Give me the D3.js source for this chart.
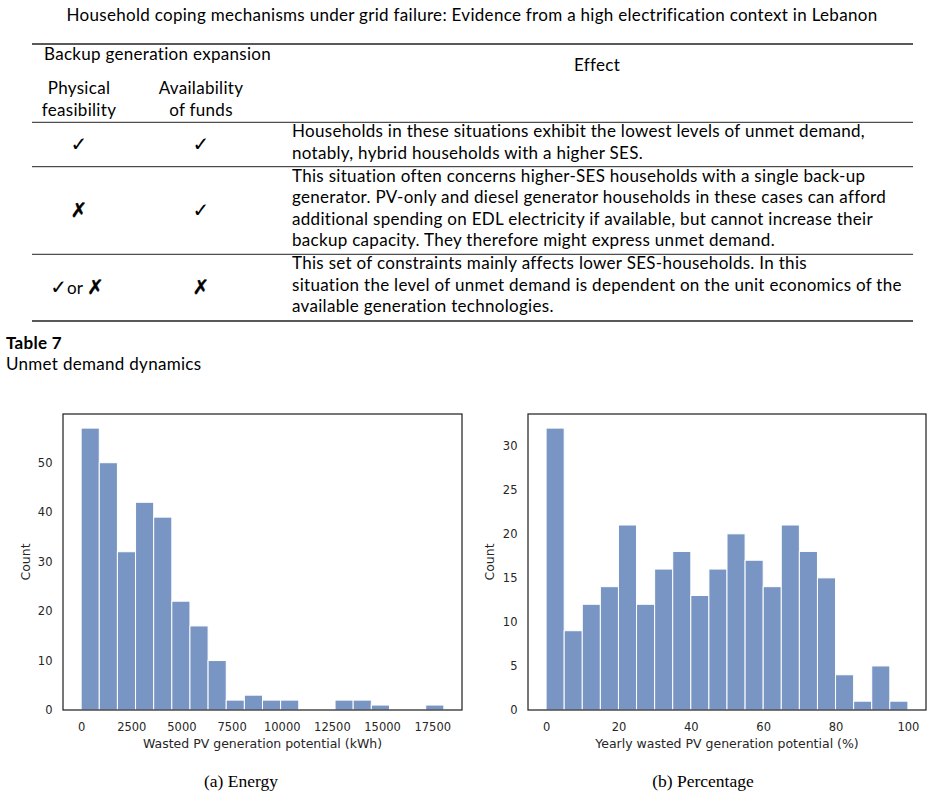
<!DOCTYPE html>
<html>
<head>
<meta charset="utf-8">
<script src="https://cdn.jsdelivr.net/npm/d3@7"></script>
<style>
  body { margin: 0; background: #fff; }
  svg { display: block; }
</style>
</head>
<body>
<script>
// ---- data ----
const pageTitle = 'Household coping mechanisms under grid failure: Evidence from a high electrification context in Lebanon'

const headGroup = 'Backup generation expansion'
const headCols = [['Physical', 'feasibility'], ['Availability', 'of funds']]
const headEffect = 'Effect'

const rowMarks = [['✓', '✓'], ['✗', '✓'], ['✓or ✗', '✗']]
const rowEffects = [
  ['Households in these situations exhibit the lowest levels of unmet demand,',
    'notably, hybrid households with a higher SES.'],
  ['This situation often concerns higher-SES households with a single back-up',
    'generator. PV-only and diesel generator households in these cases can afford',
    'additional spending on EDL electricity if available, but cannot increase their',
    'backup capacity. They therefore might express unmet demand.'],
  ['This set of constraints mainly affects lower SES-households. In this',
    'situation the level of unmet demand is dependent on the unit economics of the',
    'available generation technologies.'],
]
const tableLabel = 'Table 7'
const tableCaption = 'Unmet demand dynamics'

// (a) wasted energy histogram
const energyEdges = [0, 904, 1808, 2712, 3616, 4520, 5424, 6328, 7232, 8136, 9040,
  9944, 10848, 11752, 12656, 13560, 14464, 15368, 16272, 17176, 18080]
const energyCounts = [57, 50, 32, 42, 39, 22, 17, 10, 2, 3, 2, 2, 0, 0, 2, 2, 1, 0, 0, 1]
const energyTicks = [0, 2500, 5000, 7500, 10000, 12500, 15000, 17500]
const energyCountTicks = [0, 10, 20, 30, 40, 50]

// (b) wasted share histogram
const shareEdges = [0, 5, 10, 15, 20, 25, 30, 35, 40, 45, 50, 55, 60, 65, 70, 75, 80, 85, 90, 95, 100]
const shareCounts = [32, 9, 12, 14, 21, 12, 16, 18, 13, 16, 20, 17, 14, 21, 18, 15, 4, 1, 5, 1]
const shareTicks = [0, 20, 40, 60, 80, 100]
const shareCountTicks = [0, 5, 10, 15, 20, 25, 30]

// ---- page ----
const width = 933
const height = 796
const texFont = 'Lato, "DejaVu Sans", sans-serif'
const texSize = 17
const texSpacing = 0.3

const svg = d3.select('body').append('svg')
  .attr('width', width)
  .attr('height', height)

svg.append('text')
  .attr('x', 472)
  .attr('y', 21)
  .attr('text-anchor', 'middle')
  .attr('font-family', texFont)
  .attr('font-size', texSize)
  .attr('letter-spacing', texSpacing)
  .text(pageTitle)

// ---- table ----
const table = svg.append('g')
  .attr('font-family', texFont)
  .attr('font-size', texSize)
  .attr('letter-spacing', texSpacing)
const ruleX = [32, 913]
const rules = [{ y: 44, w: 1.5 }, { y: 122.3, w: 1 }, { y: 166.7, w: 1 }, { y: 254.3, w: 1 }, { y: 321, w: 1.5 }]

table.selectAll('line.rule')
  .data(rules)
  .join('line')
  .attr('class', 'rule')
  .attr('x1', ruleX[0])
  .attr('x2', ruleX[1])
  .attr('y1', d => d.y)
  .attr('y2', d => d.y)
  .attr('stroke', '#222')
  .attr('stroke-width', d => d.w)

table.append('text')
  .attr('x', 44)
  .attr('y', 60)
  .text(headGroup)

table.append('text')
  .attr('x', 597)
  .attr('y', 71)
  .attr('text-anchor', 'middle')
  .text(headEffect)

const colCenters = [79, 201]
headCols.forEach((lines, c) => {
  lines.forEach((s, i) => {
    table.append('text')
      .attr('x', colCenters[c])
      .attr('y', 94 + i * 21.6)
      .attr('text-anchor', 'middle')
      .text(s)
  })
})

const lineGap = 21.6
const rowTops = [122.3, 166.7, 254.3]
const firstBaseline = 14.8

rowEffects.forEach((lines, r) => {
  const top = rowTops[r]
  table.selectAll(null)
    .data(lines)
    .join('text')
    .attr('x', 292)
    .attr('y', (d, i) => top + firstBaseline + i * lineGap)
    .text(d => d)

  const mid = top + firstBaseline + (lines.length - 1) * lineGap / 2 - 3.5
  rowMarks[r].forEach((m, c) => {
    const t = table.append('text')
      .attr('x', colCenters[c])
      .attr('y', mid)
      .attr('text-anchor', 'middle')
      .attr('dominant-baseline', 'central')
      .attr('font-family', '"DejaVu Sans"')
      .attr('font-size', 20)
      .attr('letter-spacing', 0)
    if (m.includes('or')) {
      t.attr('x', colCenters[c] - 2)
      t.append('tspan').text('✓')
      t.append('tspan').attr('font-family', texFont).attr('font-size', texSize).text('or ')
      t.append('tspan').attr('stroke', '#000').attr('stroke-width', 0.4).text('✗')
    } else {
      t.text(m)
      if (m === '✗') t.attr('stroke', '#000').attr('stroke-width', 0.4)
    }
  })
})

svg.append('text')
  .attr('x', 6)
  .attr('y', 348.5)
  .attr('font-family', texFont)
  .attr('font-size', texSize)
  .attr('letter-spacing', texSpacing)
  .attr('font-weight', 700)
  .text(tableLabel)

svg.append('text')
  .attr('x', 6)
  .attr('y', 370)
  .attr('font-family', texFont)
  .attr('font-size', texSize)
  .attr('letter-spacing', texSpacing)
  .text(tableCaption)

// ---- histograms ----
const ink = '#262626'
const barFill = 'rgb(121,149,196)'

const histogram = ({ left, right, edges, counts, xTicks, yTicks, xLabel, caption, captionX, countLabelX }) => {
  const top = 414
  const bottom = 710
  const lo = edges[0]
  const hi = edges[edges.length - 1]
  const pad = (hi - lo) * 0.05

  const x = d3.scaleLinear().domain([lo - pad, hi + pad]).range([left, right])
  const y = d3.scaleLinear().domain([0, d3.max(counts) * 1.05]).range([bottom, top])

  const g = svg.append('g')

  g.selectAll('rect.bar')
    .data(counts)
    .join('rect')
    .attr('class', 'bar')
    .attr('x', (d, i) => x(edges[i]))
    .attr('width', (d, i) => x(edges[i + 1]) - x(edges[i]))
    .attr('y', d => y(d))
    .attr('height', d => bottom - y(d))
    .attr('fill', barFill)
    .attr('stroke', '#fff')
    .attr('stroke-width', 1)
    .attr('display', d => (d > 0 ? null : 'none'))

  const xAxis = g.append('g')
    .attr('transform', `translate(0,${bottom})`)
    .call(d3.axisBottom(x).tickValues(xTicks).tickSize(0).tickPadding(12.5).tickFormat(d3.format('d')))
  const yAxis = g.append('g')
    .attr('transform', `translate(${left},0)`)
    .call(d3.axisLeft(y).tickValues(yTicks).tickSize(0).tickPadding(10.5).tickFormat(d3.format('d')))

  ;[xAxis, yAxis].forEach(a => {
    a.select('.domain').remove()
    a.attr('font-family', '"DejaVu Sans"').attr('font-size', 11.5).attr('color', ink)
  })

  g.append('rect')
    .attr('x', left)
    .attr('y', top)
    .attr('width', right - left)
    .attr('height', bottom - top)
    .attr('fill', 'none')
    .attr('stroke', ink)
    .attr('stroke-width', 1.25)

  g.append('text')
    .attr('x', (left + right) / 2)
    .attr('y', 748)
    .attr('text-anchor', 'middle')
    .attr('font-family', '"DejaVu Sans"')
    .attr('font-size', 12.5)
    .attr('fill', ink)
    .text(xLabel)

  g.append('text')
    .attr('transform', `translate(${countLabelX},${(top + bottom) / 2}) rotate(-90)`)
    .attr('text-anchor', 'middle')
    .attr('dominant-baseline', 'central')
    .attr('font-family', '"DejaVu Sans"')
    .attr('font-size', 12.5)
    .attr('fill', ink)
    .text('Count')

  g.append('text')
    .attr('x', captionX)
    .attr('y', 787)
    .attr('text-anchor', 'middle')
    .attr('font-family', '"Liberation Serif", serif')
    .attr('font-size', 17.5)
    .text(caption)
}

histogram({
  left: 63,
  right: 462,
  edges: energyEdges,
  counts: energyCounts,
  xTicks: energyTicks,
  yTicks: energyCountTicks,
  xLabel: 'Wasted PV generation potential (kWh)',
  caption: '(a) Energy',
  captionX: 241,
  countLabelX: 25,
})

histogram({
  left: 528,
  right: 926,
  edges: shareEdges,
  counts: shareCounts,
  xTicks: shareTicks,
  yTicks: shareCountTicks,
  xLabel: 'Yearly wasted PV generation potential (%)',
  caption: '(b) Percentage',
  captionX: 703,
  countLabelX: 489,
})
</script>
</body>
</html>
